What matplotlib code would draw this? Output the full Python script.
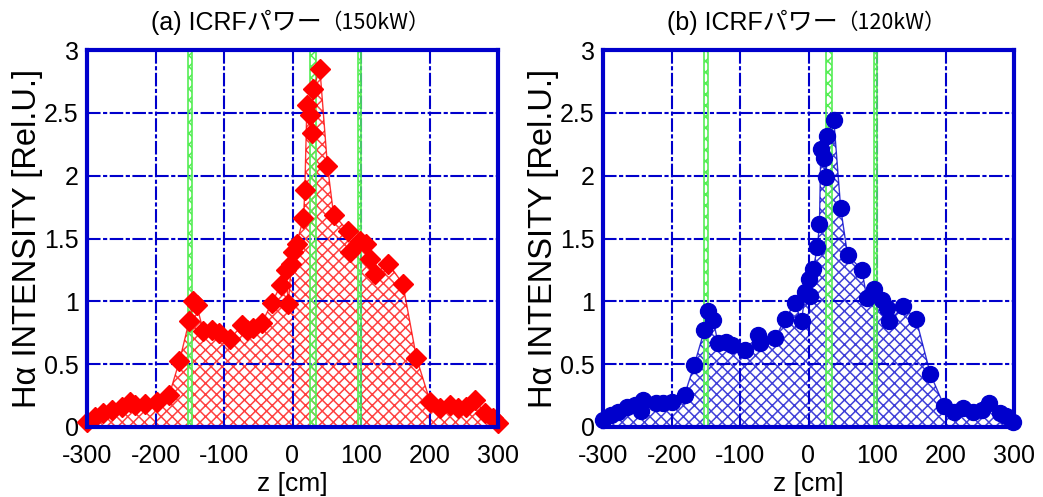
import matplotlib
matplotlib.use('Agg')
import matplotlib.pyplot as plt

plt.rcParams['font.family'] = ['Liberation Sans', 'Noto Sans CJK JP', 'DejaVu Sans']
plt.rcParams['hatch.linewidth'] = 1.1

# (a) 150 kW
z_a = [-300, -288, -276, -264, -249, -237, -230, -215, -198, -180, -165, -151, -145, -140,
       -130, -118, -108, -91, -74, -67, -57, -45, -30, -17, -10, -6, -2, 1, 6, 16, 18, 21,
       25, 28, 30, 40, 51, 60, 81, 84, 99, 108, 113, 120, 140, 161, 181, 201, 215, 230,
       242, 254, 266, 281, 293, 300]
h_a = [0.04, 0.08, 0.11, 0.135, 0.16, 0.2, 0.175, 0.18, 0.2, 0.255, 0.525, 0.84, 1.0, 0.97,
       0.76, 0.77, 0.745, 0.7, 0.81, 0.77, 0.785, 0.825, 0.99, 1.13, 1.25, 0.98, 1.3, 1.395,
       1.46, 1.66, 1.885, 2.56, 2.48, 2.34, 2.69, 2.85, 2.08, 1.69, 1.56, 1.39, 1.48, 1.46,
       1.34, 1.22, 1.30, 1.14, 0.55, 0.2, 0.15, 0.175, 0.15, 0.16, 0.215, 0.11, 0.07, 0.03]

# (b) 120 kW
z_b = [-300, -288, -278, -265, -253, -244, -241, -222, -212, -200, -181, -167, -152, -146,
       -139, -132, -120, -112, -93, -73, -71, -49, -34, -20, -10, -5, 0, 2, 7, 13, 16, 18,
       22, 26, 27, 37, 47, 57, 78, 85, 95, 107, 114, 118, 138, 157, 178, 198, 212, 226,
       240, 253, 264, 280, 289, 299]
h_b = [0.055, 0.095, 0.12, 0.16, 0.175, 0.13, 0.215, 0.19, 0.19, 0.195, 0.255, 0.49, 0.77,
       0.92, 0.85, 0.665, 0.68, 0.65, 0.61, 0.73, 0.665, 0.705, 0.86, 0.985, 0.84, 1.075,
       1.18, 1.04, 1.26, 1.43, 1.615, 2.215, 2.14, 1.99, 2.315, 2.44, 1.74, 1.37, 1.25, 1.03,
       1.10, 1.01, 0.945, 0.84, 0.96, 0.86, 0.42, 0.167, 0.12, 0.15, 0.12, 0.135, 0.19,
       0.11, 0.09, 0.04]

# coil positions (green bands)
bands = [(-153, -146), (26, 34), (95, 100)]

x_ticks = [-300, -200, -100, 0, 100, 200, 300]
y_ticks = [0, 0.5, 1, 1.5, 2, 2.5, 3]
y_labels = ['0', '0.5', '1', '1.5', '2', '2.5', '3']

BLUE = '#0000cc'


def plot_panel(ax, z, h, color, marker, ms, title_main, title_sub):
    ax.fill_between(z, h, 0, facecolor='none', edgecolor=color, hatch='xxx',
                    linewidth=0, alpha=0.75, zorder=1)
    for lo, hi in bands:
        ax.axvspan(lo, hi, facecolor='none', edgecolor='#55ee55', hatch='xxx',
                   linewidth=0, zorder=1.6)
        ax.axvline(lo, color='#55ee55', lw=1.2, zorder=1.7)
        ax.axvline(hi, color='#55ee55', lw=1.2, zorder=1.7)
    ax.plot(z, h, '-', color=color, lw=1.0, alpha=0.8, zorder=2)
    ax.plot(z, h, marker, color=color, ms=ms, mec=color, ls='none', clip_on=False, zorder=3)

    ax.set_xlim(-300, 300)
    ax.set_ylim(0, 3)
    ax.set_xticks(x_ticks)
    ax.set_xticklabels([str(t) for t in x_ticks])
    ax.set_yticks(y_ticks)
    ax.set_yticklabels(y_labels)
    ax.tick_params(length=0, labelsize=18)
    ax.tick_params(axis='x', pad=12)
    ax.tick_params(axis='y', pad=6)
    ax.grid(True, color=BLUE, lw=1.5, ls=(0, (6.5, 1.2, 2.0, 1.2)))
    for sp in ax.spines.values():
        sp.set_color(BLUE)
        sp.set_linewidth(3)
        sp.set_zorder(4)

    ax.set_xlabel('z [cm]', fontsize=19, labelpad=3)
    ax.set_ylabel('H\u03b1 INTENSITY [Rel.U.]', fontsize=23.5, labelpad=1)

    ax.text(0.572, 1.074, title_main, transform=ax.transAxes, ha='right', va='center',
            fontsize=18)
    ax.text(0.566, 1.072, title_sub, transform=ax.transAxes, ha='left', va='center',
            fontsize=15.5, family=['Noto Sans CJK JP', 'DejaVu Sans'])


fig = plt.figure(figsize=(10.43, 4.97), dpi=100)
ax1 = fig.add_axes([87 / 1043, 70 / 497, 411 / 1043, 377 / 497])
ax2 = fig.add_axes([603 / 1043, 70 / 497, 411 / 1043, 377 / 497])

plot_panel(ax1, z_a, h_a, '#ff0000', 'D', 10.5, '(a) ICRFパワー', '（150kW）')
plot_panel(ax2, z_b, h_b, BLUE, 'o', 11.5, '(b) ICRFパワー', '（120kW）')

fig.savefig('out.png', dpi=100)
